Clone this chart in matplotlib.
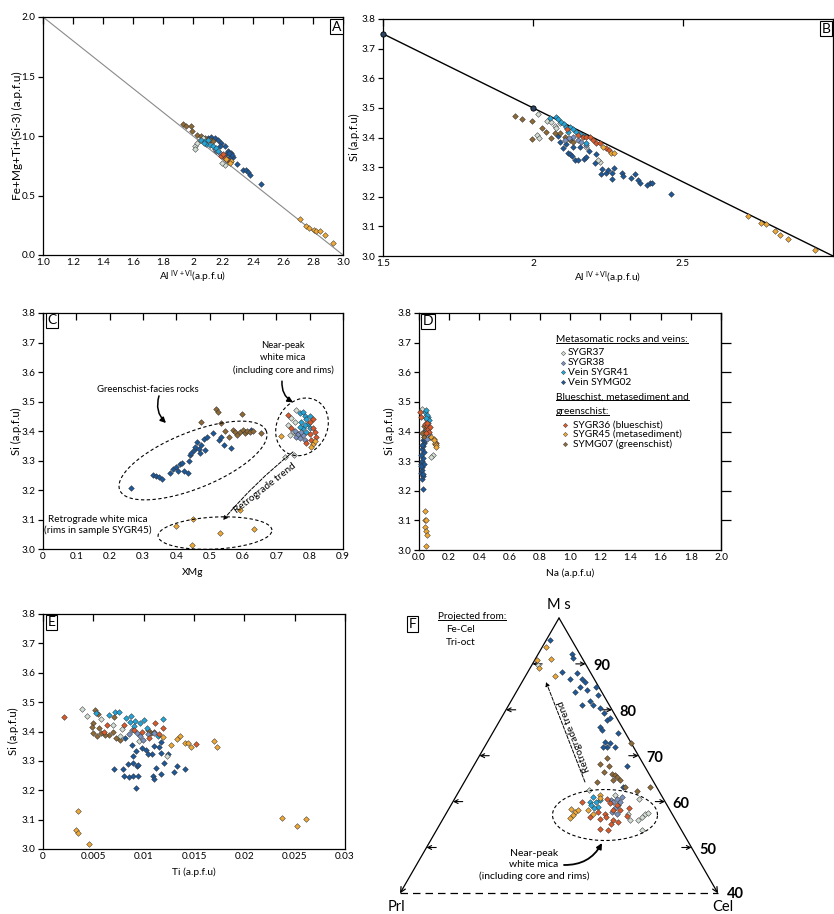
"""Six-panel white mica chemistry figure (A-F) redrawn with matplotlib."""
import numpy as np
import matplotlib
matplotlib.use("Agg")
import matplotlib.pyplot as plt
from matplotlib.lines import Line2D

plt.rcParams["font.family"] = ["Lato", "DejaVu Sans"]
plt.rcParams["font.size"] = 7
plt.rcParams["mathtext.default"] = "regular"
plt.rcParams["axes.linewidth"] = 0.9

# ---------------------------------------------------------------------------
# Samples
# ---------------------------------------------------------------------------
DRAW_ORDER = ["SYMG02", "SYMG07", "SYGR37", "SYGR38", "SYGR41", "SYGR36", "SYGR45"]
COLORS = {
    "SYGR37": "#d3ded5",
    "SYGR38": "#7a93c2",
    "SYGR41": "#22a6da",
    "SYMG02": "#1d5898",
    "SYGR36": "#db5a2c",
    "SYGR45": "#f0a935",
    "SYMG07": "#8d6a36",
}
LEGEND_KEYS_1 = ["SYGR37", "SYGR38", "SYGR41", "SYMG02"]
LEGEND_LABELS_1 = ["SYGR37", "SYGR38", "Vein SYGR41", "Vein SYMG02"]
LEGEND_KEYS_2 = ["SYGR36", "SYGR45", "SYMG07"]
LEGEND_LABELS_2 = ["SYGR36 (blueschist)", "SYGR45 (metasediment)", "SYMG07 (greenschist)"]

# ---------------------------------------------------------------------------
# Panel A: Al(IV+VI) vs Fe+Mg+Ti+(Si-3)
# ---------------------------------------------------------------------------
A_LINE_X = [1.0, 3.0]
A_LINE_Y = [2.0, 0.0]
A_SYMG07 = [(1.933, 1.102), (1.956, 1.080), (1.989, 1.086), (1.993, 1.043), (2.027, 1.010),
            (2.056, 0.996), (2.078, 0.982), (2.111, 0.968), (2.133, 0.954)]
A_SYGR37 = [(2.011, 0.912), (2.011, 0.889), (2.027, 0.940), (2.044, 0.968), (2.067, 0.982),
            (2.211, 0.757), (2.196, 0.771)]
A_SYGR41 = [(2.056, 0.968), (2.078, 0.954), (2.089, 0.934), (2.111, 0.923), (2.133, 0.912),
            (2.156, 0.898), (2.167, 0.870), (2.100, 0.968), (2.071, 0.940)]
A_SYMG02 = [(2.100, 0.982), (2.122, 0.990), (2.144, 0.982), (2.167, 0.968), (2.189, 0.940),
            (2.211, 0.912), (2.233, 0.870), (2.256, 0.856), (2.267, 0.827), (2.244, 0.827),
            (2.293, 0.766), (2.333, 0.715), (2.351, 0.715), (2.367, 0.701), (2.382, 0.673),
            (2.456, 0.595), (2.222, 0.850), (2.178, 0.912), (2.260, 0.840), (2.240, 0.860)]
A_SYGR38 = [(2.156, 0.870), (2.178, 0.856), (2.200, 0.842), (2.144, 0.889)]
A_SYGR36 = [(2.189, 0.833), (2.211, 0.813), (2.233, 0.799), (2.249, 0.785), (2.200, 0.850)]
A_SYGR45 = [(2.222, 0.805), (2.256, 0.794), (2.244, 0.771), (2.711, 0.303), (2.751, 0.244),
            (2.773, 0.230), (2.804, 0.210), (2.822, 0.205), (2.844, 0.199), (2.878, 0.168),
            (2.933, 0.098)]
A_XTICKS = [1.0, 1.2, 1.4, 1.6, 1.8, 2.0, 2.2, 2.4, 2.6, 2.8, 3.0]
A_XLABELS = ["1.0", "1.2", "1.4", "1.6", "1.8", "2", "2.2", "2.4", "2.6", "2.8", "3.0"]
A_YTICKS = [0.0, 0.5, 1.0, 1.5, 2.0]
A_YLABELS = ["0.0", "0.5", "1.0", "1.5", "2.0"]

# ---------------------------------------------------------------------------
# Panel B: Al(IV+VI) vs Si
# ---------------------------------------------------------------------------
B_LINE_X = [1.5, 3.0]
B_LINE_Y = [3.75, 3.0]
B_REF_X = [1.5, 2.0]
B_REF_Y = [3.75, 3.5]
B_SYMG07 = [(1.941, 3.474), (1.964, 3.464), (1.998, 3.456), (1.997, 3.394), (2.031, 3.431),
            (2.044, 3.420), (2.061, 3.397), (2.072, 3.416), (2.089, 3.414), (2.106, 3.403),
            (2.122, 3.392), (2.135, 3.385)]
B_SYGR37 = [(2.017, 3.478), (2.014, 3.408), (2.019, 3.397), (2.047, 3.457), (2.061, 3.453),
            (2.072, 3.439), (2.078, 3.431), (2.089, 3.448), (2.222, 3.318), (2.216, 3.324),
            (2.178, 3.369)]
B_SYGR41 = [(2.056, 3.465), (2.078, 3.468), (2.083, 3.461), (2.094, 3.453), (2.102, 3.446),
            (2.111, 3.437), (2.124, 3.437), (2.133, 3.428), (2.144, 3.420), (2.156, 3.412),
            (2.169, 3.405), (2.178, 3.383), (2.117, 3.420)]
B_SYGR38 = [(2.133, 3.403), (2.150, 3.392), (2.161, 3.386), (2.120, 3.400), (2.178, 3.375),
            (2.105, 3.390)]
B_SYGR36 = [(2.113, 3.428), (2.167, 3.401), (2.178, 3.403), (2.189, 3.403), (2.200, 3.392),
            (2.211, 3.383), (2.222, 3.380), (2.244, 3.363), (2.253, 3.358), (2.150, 3.410)]
B_SYGR45 = [(2.233, 3.369), (2.261, 3.347), (2.269, 3.347), (2.717, 3.135), (2.761, 3.110),
            (2.776, 3.108), (2.807, 3.086), (2.824, 3.071), (2.850, 3.059), (2.939, 3.020)]
B_SYMG02 = [(2.083, 3.405), (2.089, 3.386), (2.100, 3.363), (2.111, 3.378), (2.117, 3.349),
            (2.122, 3.344), (2.131, 3.338), (2.139, 3.324), (2.150, 3.324), (2.169, 3.326),
            (2.187, 3.354), (2.133, 3.367), (2.156, 3.369), (2.178, 3.335), (2.209, 3.344),
            (2.207, 3.315), (2.231, 3.293), (2.228, 3.277), (2.244, 3.279), (2.250, 3.290),
            (2.264, 3.281), (2.264, 3.259), (2.269, 3.296), (2.298, 3.279), (2.300, 3.271),
            (2.328, 3.262), (2.339, 3.276), (2.350, 3.257), (2.356, 3.248), (2.380, 3.240),
            (2.389, 3.245), (2.398, 3.248), (2.461, 3.209)]
B_XTICKS = [1.5, 2.0, 2.5, 3.0]
B_XLABELS = ["1.5", "2", "2.5", ""]   # the "3" falls off the right edge of the page

SI_TICKS = [3.0, 3.1, 3.2, 3.3, 3.4, 3.5, 3.6, 3.7, 3.8]
SI_LABELS = ["3.0", "3.1", "3.2", "3.3", "3.4", "3.5", "3.6", "3.7", "3.8"]

# ---------------------------------------------------------------------------
# Panel C: XMg vs Si
# ---------------------------------------------------------------------------
C_SYMG02 = [(0.265, 3.208), (0.330, 3.250), (0.340, 3.249), (0.348, 3.243), (0.358, 3.237),
            (0.382, 3.259), (0.390, 3.272), (0.398, 3.277), (0.405, 3.263), (0.410, 3.288),
            (0.418, 3.291), (0.422, 3.263), (0.435, 3.259), (0.438, 3.299), (0.440, 3.317),
            (0.445, 3.324), (0.452, 3.336), (0.455, 3.347), (0.462, 3.364), (0.468, 3.338),
            (0.470, 3.324), (0.474, 3.353), (0.482, 3.372), (0.485, 3.334), (0.492, 3.381),
            (0.510, 3.392), (0.527, 3.370), (0.535, 3.381), (0.542, 3.353), (0.565, 3.341),
            (0.605, 3.395), (0.625, 3.403)]
C_SYMG07 = [(0.475, 3.430), (0.518, 3.474), (0.524, 3.465), (0.533, 3.428), (0.558, 3.381),
            (0.570, 3.405), (0.575, 3.395), (0.582, 3.388), (0.590, 3.398), (0.597, 3.456),
            (0.600, 3.405), (0.607, 3.392), (0.612, 3.400), (0.620, 3.395), (0.630, 3.400),
            (0.655, 3.392), (0.545, 3.400)]
C_SYGR37 = [(0.745, 3.443), (0.760, 3.471), (0.735, 3.420), (0.750, 3.400), (0.740, 3.385),
            (0.752, 3.319), (0.725, 3.313), (0.760, 3.390), (0.755, 3.430)]
C_SYGR41 = [(0.770, 3.460), (0.780, 3.465), (0.785, 3.450), (0.790, 3.440), (0.775, 3.430),
            (0.795, 3.425), (0.780, 3.410), (0.800, 3.410), (0.770, 3.415), (0.790, 3.395),
            (0.800, 3.450), (0.785, 3.420)]
C_SYGR38 = [(0.755, 3.400), (0.760, 3.380), (0.770, 3.375), (0.780, 3.385), (0.785, 3.370),
            (0.765, 3.390), (0.775, 3.395)]
C_SYGR36 = [(0.735, 3.455), (0.745, 3.410), (0.800, 3.430), (0.810, 3.410), (0.815, 3.395),
            (0.800, 3.390), (0.790, 3.360), (0.820, 3.380), (0.805, 3.370), (0.810, 3.440)]
C_SYGR45 = [(0.715, 3.383), (0.810, 3.355), (0.805, 3.345), (0.815, 3.365), (0.398, 3.079),
            (0.451, 3.101), (0.446, 3.015), (0.530, 3.054), (0.590, 3.133), (0.632, 3.068)]
C_XTICKS = [0.0, 0.1, 0.2, 0.3, 0.4, 0.5, 0.6, 0.7, 0.8, 0.9]
C_XLABELS = ["0", "0.1", "0.2", "0.3", "0.4", "0.5", "0.6", "0.7", "0.8", "0.9"]

# ---------------------------------------------------------------------------
# Panel D: Na vs Si
# ---------------------------------------------------------------------------
D_SYMG02 = [(0.027, 3.206), (0.020, 3.240), (0.025, 3.250), (0.015, 3.260), (0.022, 3.270),
            (0.018, 3.280), (0.012, 3.290), (0.020, 3.300), (0.025, 3.310), (0.015, 3.320),
            (0.030, 3.330), (0.020, 3.340), (0.028, 3.350), (0.035, 3.360), (0.025, 3.370),
            (0.030, 3.380), (0.040, 3.390), (0.020, 3.355), (0.030, 3.290), (0.035, 3.400),
            (0.045, 3.410), (0.027, 3.255), (0.015, 3.285), (0.040, 3.370)]
D_SYMG07 = [(0.030, 3.400), (0.035, 3.420), (0.040, 3.390), (0.045, 3.410), (0.030, 3.380),
            (0.050, 3.400), (0.020, 3.395)]
D_SYGR37 = [(0.020, 3.477), (0.093, 3.319), (0.082, 3.313), (0.040, 3.450), (0.060, 3.430),
            (0.050, 3.440)]
D_SYGR38 = [(0.060, 3.398), (0.071, 3.383), (0.050, 3.405), (0.065, 3.390), (0.055, 3.375)]
D_SYGR41 = [(0.038, 3.465), (0.049, 3.471), (0.060, 3.448), (0.066, 3.440), (0.050, 3.455),
            (0.055, 3.430), (0.045, 3.445)]
D_SYGR36 = [(0.009, 3.465), (0.012, 3.450), (0.038, 3.426), (0.050, 3.420), (0.060, 3.410),
            (0.065, 3.400), (0.104, 3.358), (0.112, 3.362), (0.045, 3.395), (0.055, 3.430),
            (0.070, 3.415)]
D_SYGR45 = [(0.040, 3.130), (0.040, 3.101), (0.048, 3.101), (0.042, 3.079), (0.049, 3.065),
            (0.055, 3.052), (0.049, 3.014), (0.082, 3.383), (0.097, 3.375), (0.108, 3.361),
            (0.115, 3.356), (0.110, 3.347), (0.100, 3.370)]
D_XTICKS = [0.0, 0.2, 0.4, 0.6, 0.8, 1.0, 1.2, 1.4, 1.6, 1.8, 2.0]
D_XLABELS = ["0.0", "0.2", "0.4", "0.6", "0.8", "1.0", "1.2", "1.4", "1.6", "1.8", "2.0"]

# ---------------------------------------------------------------------------
# Panel E: Ti vs Si
# ---------------------------------------------------------------------------
E_SYMG02 = [(0.0071, 3.272), (0.0079, 3.272), (0.0080, 3.247), (0.0085, 3.245), (0.0089, 3.249),
            (0.0092, 3.207), (0.0094, 3.247), (0.0089, 3.292), (0.0093, 3.281), (0.0089, 3.315),
            (0.0092, 3.332), (0.0088, 3.355), (0.0081, 3.377), (0.0098, 3.343), (0.0102, 3.338),
            (0.0108, 3.324), (0.0110, 3.349), (0.0115, 3.347), (0.0117, 3.326), (0.0112, 3.275),
            (0.0109, 3.247), (0.0110, 3.239), (0.0117, 3.256), (0.0120, 3.292), (0.0124, 3.324),
            (0.0130, 3.261), (0.0133, 3.281), (0.0141, 3.272), (0.0117, 3.363), (0.0084, 3.290),
            (0.0094, 3.285), (0.0104, 3.322)]
E_SYMG07 = [(0.0052, 3.474), (0.0055, 3.460), (0.0050, 3.428), (0.0049, 3.415), (0.0050, 3.394),
            (0.0054, 3.383), (0.0058, 3.395), (0.0066, 3.389), (0.0070, 3.398), (0.0073, 3.377),
            (0.0076, 3.372), (0.0056, 3.411), (0.0104, 3.405), (0.0107, 3.395), (0.0071, 3.451),
            (0.0062, 3.388), (0.0110, 3.400)]
E_SYGR37 = [(0.0039, 3.476), (0.0044, 3.453), (0.0058, 3.442), (0.0070, 3.423), (0.0076, 3.383),
            (0.0123, 3.315), (0.0095, 3.366), (0.0078, 3.410)]
E_SYGR38 = [(0.0088, 3.406), (0.0093, 3.394), (0.0099, 3.372), (0.0104, 3.392), (0.0110, 3.395),
            (0.0085, 3.390), (0.0096, 3.385)]
E_SYGR41 = [(0.0053, 3.462), (0.0066, 3.457), (0.0072, 3.465), (0.0075, 3.468), (0.0082, 3.445),
            (0.0087, 3.453), (0.0091, 3.437), (0.0096, 3.428), (0.0100, 3.440), (0.0119, 3.442),
            (0.0103, 3.411), (0.0090, 3.420), (0.0114, 3.383), (0.0086, 3.432)]
E_SYGR36 = [(0.0021, 3.451), (0.0152, 3.357), (0.0111, 3.428), (0.0119, 3.411), (0.0061, 3.400),
            (0.0064, 3.423), (0.0080, 3.423), (0.0105, 3.377), (0.0098, 3.400), (0.0090, 3.405),
            (0.0115, 3.390)]
E_SYGR45 = [(0.00345, 3.130), (0.00331, 3.066), (0.00351, 3.054), (0.00457, 3.016),
            (0.02377, 3.105), (0.02519, 3.080), (0.02609, 3.103), (0.0170, 3.368),
            (0.0173, 3.347), (0.0147, 3.346), (0.0141, 3.360), (0.0136, 3.385), (0.0133, 3.374),
            (0.0127, 3.355), (0.0119, 3.380), (0.0144, 3.362)]
E_XTICKS = [0.0, 0.005, 0.01, 0.015, 0.02, 0.025, 0.03]
E_XLABELS = ["0", "0.005", "0.01", "0.015", "0.02", "0.025", "0.03"]

# ---------------------------------------------------------------------------
# Panel F: ternary Ms - Prl - Cel, values as (Ms %, Cel %)
# ---------------------------------------------------------------------------
F_SYMG02 = [(95.1, 0.8), (92.1, 6.4), (91.2, 7.1), (88.3, 6.4), (88.1, 9.3), (86.7, 8.7),
            (86.8, 10.9), (86.1, 11.9), (84.9, 11.5), (84.3, 13.1), (83.9, 11.0), (85.0, 14.5),
            (83.2, 15.8), (82.0, 14.9), (81.0, 16.0), (81.0, 13.8), (80.3, 17.6), (79.2, 18.8),
            (77.8, 20.2), (78.3, 20.5), (76.3, 19.6), (75.6, 20.3), (75.0, 23.7), (73.0, 22.2),
            (72.7, 23.3), (71.9, 24.6), (71.9, 23.2), (71.9, 22.4), (67.7, 29.0), (63.1, 30.5)]
F_SYMG07 = [(72.7, 27.2), (69.4, 24.3), (68.2, 23.6), (67.7, 25.6), (66.1, 26.9), (65.8, 27.7),
            (65.4, 28.2), (64.7, 29.2), (64.7, 27.9), (63.2, 30.9), (64.3, 25.0), (63.2, 35.6),
            (62.3, 33.5), (66.5, 25.2)]
F_SYGR37 = [(62.5, 24.5), (61.4, 29.9), (57.4, 34.4), (55.9, 35.5), (55.9, 37.0), (56.7, 37.3),
            (57.2, 37.6), (57.5, 38.1), (53.8, 38.7), (89.8, 1.1), (60.6, 34.8)]
F_SYGR38 = [(60.3, 29.6), (59.9, 30.3), (59.2, 31.6), (58.5, 31.3), (59.9, 31.6), (57.8, 31.1),
            (61.0, 31.4), (57.4, 32.2), (60.6, 30.6)]
F_SYGR41 = [(61.0, 26.0), (59.9, 27.0), (59.9, 25.9), (58.9, 28.0), (60.3, 27.6), (59.2, 26.5),
            (58.5, 27.3)]
F_SYGR36 = [(59.9, 24.3), (56.7, 27.5), (57.8, 28.5), (56.3, 29.6), (57.4, 30.0), (59.6, 29.8),
            (58.1, 31.2), (56.7, 30.6), (55.9, 32.3), (55.6, 33.3), (55.2, 32.3), (58.5, 34.0),
            (56.8, 34.4), (54.1, 30.6), (53.8, 32.4), (58.1, 32.5), (59.2, 31.3), (60.5, 28.8)]
F_SYGR45 = [(93.6, 0.7), (91.0, 2.9), (90.8, 0.4), (89.2, 1.7), (87.4, 5.6), (58.3, 23.2),
            (57.8, 24.1), (58.1, 24.5), (57.0, 24.2), (58.1, 26.5), (61.4, 27.0), (60.8, 27.4),
            (57.4, 27.8), (56.5, 23.8)]
F_MS_TICKS = [90, 80, 70, 60, 50]
F_MS_MIN = 40


# ---------------------------------------------------------------------------
# Helpers
# ---------------------------------------------------------------------------
W, H = 834, 914
LABEL_X = 7.4   # axis-title sizes
LABEL_Y = 8.0


def px_axes(fig, left, top, right, bottom):
    return fig.add_axes([left / W, 1 - bottom / H, (right - left) / W, (bottom - top) / H])


def frame(ax, xlim, ylim, xticks, xlabels, yticks, ylabels):
    ax.set_xlim(*xlim)
    ax.set_ylim(*ylim)
    ax.set_xticks(xticks, xlabels)
    ax.set_yticks(yticks, ylabels)
    ax.tick_params(axis="x", bottom=False, top=True, direction="in", length=5,
                   width=0.9, pad=2.5, labelsize=7.2)
    ax.tick_params(axis="y", direction="out", length=3.5, width=0.9, pad=2, labelsize=7.2)


def draw_samples(ax, series, ms=2.9, convert=None):
    for name in DRAW_ORDER:
        pts = series.get(name)
        if not pts:
            continue
        xs, ys = zip(*pts)
        if convert is not None:
            xs, ys = convert(xs, ys)
        ax.plot(xs, ys, ls="none", marker="D", ms=ms, mfc=COLORS[name],
                mec="#333333", mew=0.35, zorder=3, clip_on=False)


def tag(ax, s, x, y, ha, transform=None):
    ax.text(x, y, s, transform=transform or ax.transAxes, ha=ha, va="top", fontsize=10,
            bbox=dict(boxstyle="square,pad=0.12", fc="white", ec="black", lw=0.8), zorder=6)


def dashed_ellipse(ax, cx, cy, a_px, b_px, angle_deg):
    """Dashed ellipse whose size is given in screen pixels around a data centre."""
    t = np.linspace(0, 2 * np.pi, 240)
    ang = np.deg2rad(angle_deg)
    ex, ey = a_px * np.cos(t), b_px * np.sin(t)
    dx = ex * np.cos(ang) - ey * np.sin(ang)
    dy = ex * np.sin(ang) + ey * np.cos(ang)
    c = ax.transData.transform((cx, cy))
    pts = ax.transData.inverted().transform(np.column_stack([c[0] + dx, c[1] + dy]))
    ax.plot(pts[:, 0], pts[:, 1], color="black", lw=0.8, ls=(0, (3, 2.2)),
            clip_on=False, zorder=4)


def curved_arrow(ax, start, end, rad, dashed=False, lw=1.1, scale=8):
    ax.annotate("", xy=end, xytext=start,
                arrowprops=dict(arrowstyle="-|>", color="black", lw=lw, shrinkA=0, shrinkB=0,
                                mutation_scale=scale, ls="--" if dashed else "-",
                                connectionstyle=f"arc3,rad={rad}"), zorder=5)


def underline(fig, txt, renderer):
    bb = txt.get_window_extent(renderer)
    inv = fig.transFigure.inverted()
    (x0, y0), (x1, _) = inv.transform([(bb.x0, bb.y0 + 1.0), (bb.x1, bb.y0)])
    fig.add_artist(Line2D([x0, x1], [y0, y0], transform=fig.transFigure, color="black", lw=0.7))


def tern_xy(ms, cel):
    ms = np.asarray(ms, float) / 100.0
    cel = np.asarray(cel, float) / 100.0
    return cel + ms / 2.0, ms * np.sqrt(3) / 2.0


# ---------------------------------------------------------------------------
# Figure
# ---------------------------------------------------------------------------
fig = plt.figure(figsize=(W / 100, H / 100), dpi=100)
renderer = fig.canvas.get_renderer()

axA = px_axes(fig, 43, 17, 343, 255)
axB = px_axes(fig, 383, 19, 833, 256)
axC = px_axes(fig, 43, 313, 343, 549)
axD = px_axes(fig, 419, 313, 721, 550)
axE = px_axes(fig, 43, 614, 345, 849)
axF = px_axes(fig, 380, 592, 834, 914)

al_label = r"Al$^{\ \mathregular{IV+VI}}$(a.p.f.u)"

# ---- A ------------------------------------------------------------------
frame(axA, (1.0, 3.0), (0.0, 2.0), A_XTICKS, A_XLABELS, A_YTICKS, A_YLABELS)
axA.plot(A_LINE_X, A_LINE_Y, color="#8a8a8a", lw=0.8, zorder=2)
draw_samples(axA, {"SYMG07": A_SYMG07, "SYGR37": A_SYGR37, "SYGR41": A_SYGR41,
                   "SYMG02": A_SYMG02, "SYGR38": A_SYGR38, "SYGR36": A_SYGR36,
                   "SYGR45": A_SYGR45})
axA.set_xlabel(al_label, fontsize=LABEL_X)
axA.set_ylabel("Fe+Mg+Ti+(Si-3) (a.p.f.u)", fontsize=8.6)
axA.xaxis.set_label_coords(0.5, -0.058)
axA.yaxis.set_label_coords(-0.068, 0.5)
tag(axA, "A", 0.993, 0.985, "right")

# ---- B ------------------------------------------------------------------
frame(axB, (1.5, 3.0), (3.0, 3.8), B_XTICKS, B_XLABELS, SI_TICKS, SI_LABELS)
axB.plot(B_LINE_X, B_LINE_Y, color="black", lw=1.0, zorder=2, clip_on=False)
axB.plot(B_REF_X, B_REF_Y, ls="none", marker="o", ms=3.8, mfc="#2a4666", mec="black",
         mew=0.6, zorder=4, clip_on=False)
draw_samples(axB, {"SYMG07": B_SYMG07, "SYGR37": B_SYGR37, "SYGR41": B_SYGR41,
                   "SYMG02": B_SYMG02, "SYGR38": B_SYGR38, "SYGR36": B_SYGR36,
                   "SYGR45": B_SYGR45})
axB.set_xlabel(al_label, fontsize=LABEL_X)
axB.set_ylabel("Si (a.p.f.u)", fontsize=LABEL_Y)
axB.xaxis.set_label_coords(0.5, -0.058)
axB.yaxis.set_label_coords(-0.05, 0.5)
tag(axB, "B", 0.995, 0.985, "right")

# ---- C ------------------------------------------------------------------
frame(axC, (0.0, 0.9), (3.0, 3.8), C_XTICKS, C_XLABELS, SI_TICKS, SI_LABELS)
draw_samples(axC, {"SYMG07": C_SYMG07, "SYGR37": C_SYGR37, "SYGR41": C_SYGR41,
                   "SYMG02": C_SYMG02, "SYGR38": C_SYGR38, "SYGR36": C_SYGR36,
                   "SYGR45": C_SYGR45})
axC.set_xlabel("XMg", fontsize=LABEL_X)
axC.set_ylabel("Si (a.p.f.u)", fontsize=LABEL_Y)
axC.xaxis.set_label_coords(0.5, -0.08)
axC.yaxis.set_label_coords(-0.07, 0.5)
tag(axC, "C", 0.015, 0.995, "left")

dashed_ellipse(axC, 0.450, 3.300, 79, 28, 22)
dashed_ellipse(axC, 0.777, 3.414, 30, 25, 60)
dashed_ellipse(axC, 0.516, 3.054, 57, 16, 3)
axC.text(0.315, 3.542, "Greenschist-facies rocks", ha="center", va="center", fontsize=6.8)
curved_arrow(axC, (0.348, 3.519), (0.369, 3.427), 0.3)
axC.text(0.720, 3.647, "Near-peak\nwhite mica\n(including core and rims)", ha="center",
         va="center", fontsize=6.8, linespacing=1.45)
curved_arrow(axC, (0.717, 3.569), (0.750, 3.497), 0.3)
axC.text(0.165, 3.081, "Retrograde white mica\n(rims in sample SYGR45)", ha="center",
         va="center", fontsize=7.2, linespacing=1.15, clip_on=False)
curved_arrow(axC, (0.750, 3.329), (0.540, 3.098), 0.05, dashed=True, lw=0.7, scale=6)
axC.text(0.665, 3.205, "Retrograde trend", rotation=38, ha="center", va="center",
         fontsize=7.2, rotation_mode="anchor")

# ---- D ------------------------------------------------------------------
frame(axD, (0.0, 2.0), (3.0, 3.8), D_XTICKS, D_XLABELS, SI_TICKS, SI_LABELS)
sec = axD.secondary_yaxis("right")
sec.set_yticks(SI_TICKS[1:-1])
sec.tick_params(direction="out", length=7, width=0.9, labelright=False)
draw_samples(axD, {"SYMG07": D_SYMG07, "SYGR37": D_SYGR37, "SYGR41": D_SYGR41,
                   "SYMG02": D_SYMG02, "SYGR38": D_SYGR38, "SYGR36": D_SYGR36,
                   "SYGR45": D_SYGR45})
axD.set_xlabel("Na (a.p.f.u)", fontsize=LABEL_X)
axD.set_ylabel("Si (a.p.f.u)", fontsize=LABEL_Y)
axD.xaxis.set_label_coords(0.5, -0.077)
axD.yaxis.set_label_coords(-0.078, 0.5)
tag(axD, "D", 0.012, 0.99, "left")

h1 = axD.text(0.4536, 0.890, "Metasomatic rocks and veins:", transform=axD.transAxes,
              ha="left", va="center", fontsize=7.3)
underline(fig, h1, renderer)
for key, label, yy in zip(LEGEND_KEYS_1, LEGEND_LABELS_1, [0.833, 0.790, 0.750, 0.707]):
    axD.plot([0.477], [yy], transform=axD.transAxes, ls="none", marker="D", ms=2.2,
             mfc=COLORS[key], mec="#333333", mew=0.3, clip_on=False)
    axD.text(0.493, yy, label, transform=axD.transAxes, ha="left", va="center", fontsize=7.3)
h2 = axD.text(0.4536, 0.646, "Blueschist, metasediment and", transform=axD.transAxes,
              ha="left", va="center", fontsize=7.3)
h3 = axD.text(0.4536, 0.586, "greenschist:", transform=axD.transAxes,
              ha="left", va="center", fontsize=7.3)
underline(fig, h2, renderer)
underline(fig, h3, renderer)
for key, label, yy in zip(LEGEND_KEYS_2, LEGEND_LABELS_2, [0.527, 0.488, 0.447]):
    axD.plot([0.483], [yy], transform=axD.transAxes, ls="none", marker="D", ms=2.2,
             mfc=COLORS[key], mec="#333333", mew=0.3, clip_on=False)
    axD.text(0.510, yy, label, transform=axD.transAxes, ha="left", va="center", fontsize=7.3)

# ---- E ------------------------------------------------------------------
frame(axE, (0.0, 0.03), (3.0, 3.8), E_XTICKS, E_XLABELS, SI_TICKS, SI_LABELS)
draw_samples(axE, {"SYMG07": E_SYMG07, "SYGR37": E_SYGR37, "SYGR41": E_SYGR41,
                   "SYMG02": E_SYMG02, "SYGR38": E_SYGR38, "SYGR36": E_SYGR36,
                   "SYGR45": E_SYGR45})
axE.set_xlabel("Ti (a.p.f.u)", fontsize=LABEL_X)
axE.set_ylabel("Si (a.p.f.u)", fontsize=LABEL_Y)
axE.xaxis.set_label_coords(0.5, -0.077)
axE.yaxis.set_label_coords(-0.078, 0.5)
tag(axE, "E", 0.015, 0.99, "left")

# ---- F (ternary) ----------------------------------------------------------
px_unit = 530.0
apex_x, apex_y = tern_xy(100, 0)
axF.set_xlim(apex_x - (559 - 380) / px_unit, apex_x + (834 - 559) / px_unit)
axF.set_ylim(apex_y - (914 - 618) / px_unit, apex_y + (618 - 592) / px_unit)
axF.axis("off")

left = tern_xy(F_MS_MIN, 0)
right = tern_xy(F_MS_MIN, 100 - F_MS_MIN)
apex = (apex_x, apex_y)
for corner in (left, right):
    axF.annotate("", xy=corner, xytext=apex,
                 arrowprops=dict(arrowstyle="->", color="black", lw=0.9, shrinkA=0,
                                 shrinkB=0, mutation_scale=9))
axF.plot([left[0], right[0]], [left[1], right[1]], color="black", lw=0.9, ls=(0, (6, 4)))

for ms in F_MS_TICKS:
    rp = tern_xy(ms, 100 - ms)
    lp = tern_xy(ms, 0)
    axF.annotate("", xy=rp, xytext=(-7, 0), textcoords="offset points",
                 arrowprops=dict(arrowstyle="->", color="black", lw=0.8, shrinkA=0,
                                 shrinkB=0, mutation_scale=7))
    axF.annotate("", xy=lp, xytext=(7, 0), textcoords="offset points",
                 arrowprops=dict(arrowstyle="->", color="black", lw=0.8, shrinkA=0,
                                 shrinkB=0, mutation_scale=7))
    axF.annotate(str(ms), xy=rp, xytext=(5.5, -1.5), textcoords="offset points",
                 ha="left", va="center", fontsize=10.5, fontweight="bold")
axF.annotate(str(F_MS_MIN), xy=right, xytext=(6.5, -0.5), textcoords="offset points",
             ha="left", va="center", fontsize=10.5, fontweight="bold")

draw_samples(axF, {"SYMG07": F_SYMG07, "SYGR37": F_SYGR37, "SYGR41": F_SYGR41,
                   "SYMG02": F_SYMG02, "SYGR38": F_SYGR38, "SYGR36": F_SYGR36,
                   "SYGR45": F_SYGR45}, convert=tern_xy)

axF.text(apex_x, 0.8905, "M s", ha="center", va="center", fontsize=10.5)
axF.text(0.1925, 0.3215, "Prl", ha="center", va="center", fontsize=10.5)
axF.text(0.8090, 0.3215, "Cel", ha="center", va="center", fontsize=10.5)
tag(axF, "F", 0.217, 0.866, "left", transform=axF.transData)
hp = axF.text(0.2717, 0.868, "Projected from:", ha="left", va="center", fontsize=7.2)
underline(fig, hp, renderer)
axF.text(0.2868, 0.8434, "Fe-Cel", ha="left", va="center", fontsize=7.2)
axF.text(0.2868, 0.8207, "Tri-oct", ha="left", va="center", fontsize=7.2)

dashed_ellipse(axF, 0.5868, 0.4943, 52.5, 25.5, 0)
axF.text(0.4528, 0.400, "Near-peak\nwhite mica\n(including core and rims)", ha="center",
         va="center", fontsize=7.5, linespacing=1.35)
curved_arrow(axF, (0.5094, 0.400), (0.5811, 0.4415), 0.3, lw=1.3)
curved_arrow(axF, (0.549, 0.5566), (0.4755, 0.7453), 0.0, dashed=True, lw=0.7, scale=6)
axF.text(0.528, 0.643, "Retrograde trend", rotation=111, ha="center", va="center",
         fontsize=7.2, rotation_mode="anchor")

fig.savefig("out.png", dpi=100)
